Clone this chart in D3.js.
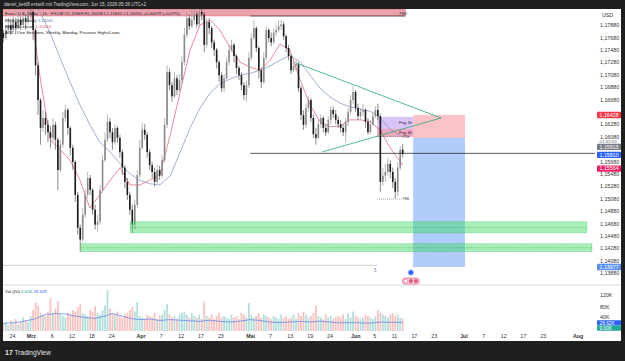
<!DOCTYPE html>
<html>
<head>
<meta charset="utf-8">
<script src="https://cdn.jsdelivr.net/npm/d3@7"></script>
<style>
  body { margin: 0; background: #1f1f1f; }
  svg { display: block; font-family: "Liberation Sans", Arial, sans-serif; }
</style>
</head>
<body>
<div id="chart"></div>
<script>
// ---- data (trading-day index: Feb 24 = 0, one bar = half a day) ----
const firstBarDay = -2;
const firstOpen = 1.1775;

const closes = [
  1.1767,1.1780,1.1788,1.1780,1.1793,1.1783,1.1796,1.1788,1.1799,1.1793,
  1.1804,1.1809,1.1780,1.1723,1.1667,1.1622,1.1638,1.1627,1.1615,1.1606,
  1.1627,1.1603,1.1554,1.1595,1.1638,1.1651,1.1622,1.1590,1.1567,1.1514,
  1.1461,1.1442,1.1482,1.1514,1.1541,1.1522,1.1490,1.1466,1.1471,1.1522,
  1.1570,1.1603,1.1632,1.1615,1.1599,1.1622,1.1606,1.1583,1.1558,1.1535,
  1.1514,1.1490,1.1466,1.1498,1.1546,1.1590,1.1619,1.1611,1.1583,1.1562,
  1.1551,1.1535,1.1554,1.1545,1.1570,1.1627,1.1712,1.1691,1.1673,1.1702,
  1.1683,1.1699,1.1728,1.1772,1.1799,1.1786,1.1796,1.1805,1.1789,1.1809,
  1.1805,1.1756,1.1793,1.1783,1.1760,1.1748,1.1728,1.1707,1.1686,1.1702,
  1.1728,1.1748,1.1756,1.1738,1.1719,1.1707,1.1691,1.1675,1.1691,1.1735,
  1.1767,1.1783,1.1751,1.1715,1.1696,1.1735,1.1780,1.1767,1.1760,1.1776,
  1.1780,1.1786,1.1789,1.1770,1.1751,1.1738,1.1715,1.1722,1.1725,1.1686,
  1.1643,1.1627,1.1654,1.1667,1.1638,1.1612,1.1606,1.1628,1.1638,1.1622,
  1.1615,1.1635,1.1651,1.1644,1.1635,1.1628,1.1622,1.1615,1.1632,1.1648,
  1.1667,1.1680,1.1654,1.1641,1.1648,1.1651,1.1632,1.1615,1.1628,1.1641,
  1.1651,1.1641,1.1535,1.1545,1.1551,1.1564,1.1551,1.1535,1.1519,1.1558,
  1.1587,1.1580
];
const highs = [
  1.1780,1.1788,1.1799,1.1793,1.1802,1.1799,1.1805,1.1802,1.1809,1.1805,
  1.1812,1.1815,1.1812,1.1783,1.1728,1.1670,1.1651,1.1648,1.1635,1.1625,
  1.1638,1.1632,1.1606,1.1603,1.1648,1.1659,1.1654,1.1625,1.1595,1.1570,
  1.1519,1.1466,1.1493,1.1522,1.1551,1.1546,1.1525,1.1498,1.1482,1.1530,
  1.1578,1.1615,1.1643,1.1638,1.1622,1.1628,1.1625,1.1611,1.1587,1.1562,
  1.1541,1.1519,1.1498,1.1506,1.1554,1.1603,1.1630,1.1628,1.1615,1.1587,
  1.1567,1.1558,1.1562,1.1561,1.1578,1.1638,1.1723,1.1718,1.1696,1.1712,
  1.1707,1.1709,1.1738,1.1783,1.1809,1.1805,1.1812,1.1814,1.1810,1.1814,
  1.1814,1.1809,1.1799,1.1799,1.1786,1.1764,1.1751,1.1731,1.1712,1.1709,
  1.1735,1.1756,1.1764,1.1759,1.1741,1.1722,1.1712,1.1696,1.1699,1.1744,
  1.1775,1.1796,1.1786,1.1754,1.1719,1.1744,1.1786,1.1783,1.1776,1.1783,
  1.1789,1.1796,1.1796,1.1793,1.1773,1.1756,1.1741,1.1731,1.1731,1.1728,
  1.1690,1.1651,1.1661,1.1673,1.1670,1.1643,1.1622,1.1635,1.1644,1.1641,
  1.1628,1.1641,1.1657,1.1657,1.1651,1.1641,1.1635,1.1628,1.1638,1.1654,
  1.1675,1.1690,1.1683,1.1661,1.1654,1.1661,1.1654,1.1638,1.1635,1.1648,
  1.1657,1.1661,1.1645,1.1558,1.1564,1.1574,1.1570,1.1558,1.1541,1.1567,
  1.1593,1.1596
];
const lows = [
  1.1760,1.1764,1.1775,1.1772,1.1776,1.1773,1.1780,1.1780,1.1783,1.1780,
  1.1788,1.1796,1.1764,1.1707,1.1643,1.1595,1.1615,1.1611,1.1599,1.1590,
  1.1599,1.1587,1.1522,1.1551,1.1590,1.1632,1.1611,1.1578,1.1554,1.1503,
  1.1450,1.1422,1.1438,1.1477,1.1509,1.1514,1.1482,1.1458,1.1455,1.1466,
  1.1519,1.1567,1.1599,1.1606,1.1587,1.1595,1.1598,1.1574,1.1546,1.1525,
  1.1506,1.1482,1.1453,1.1458,1.1493,1.1541,1.1587,1.1603,1.1574,1.1554,
  1.1541,1.1527,1.1532,1.1538,1.1541,1.1567,1.1622,1.1683,1.1664,1.1670,
  1.1675,1.1680,1.1693,1.1723,1.1767,1.1780,1.1783,1.1789,1.1783,1.1786,
  1.1796,1.1744,1.1751,1.1773,1.1751,1.1738,1.1718,1.1696,1.1680,1.1680,
  1.1699,1.1723,1.1744,1.1728,1.1709,1.1699,1.1683,1.1667,1.1664,1.1686,
  1.1731,1.1764,1.1744,1.1702,1.1686,1.1693,1.1731,1.1760,1.1754,1.1757,
  1.1770,1.1776,1.1780,1.1764,1.1744,1.1731,1.1709,1.1712,1.1715,1.1680,
  1.1635,1.1619,1.1622,1.1648,1.1632,1.1606,1.1595,1.1603,1.1622,1.1615,
  1.1609,1.1612,1.1628,1.1638,1.1628,1.1622,1.1615,1.1609,1.1599,1.1625,
  1.1643,1.1661,1.1648,1.1635,1.1635,1.1641,1.1622,1.1611,1.1612,1.1625,
  1.1638,1.1635,1.1519,1.1529,1.1535,1.1545,1.1541,1.1525,1.1508,1.1512,
  1.1554,1.1574
];
// volume per bar, in K
const volumes = [
  25,30,20,35,28,40,22,30,45,35,30,50,
  70,95,85,60,55,50,65,110,60,75,100,55,
  50,45,60,55,70,65,80,90,
  60,55,50,70,65,83,60,55,
  70,85,137,75,60,55,65,50,
  45,55,60,70,80,65,97,50,
  45,40,55,50,45,60,40,50,55,
  70,90,55,45,50,40,55,60,
  65,55,45,60,50,45,55,40,
  97,50,45,55,40,50,60,45,
  50,45,40,55,45,50,40,60,55,45,
  93,55,45,50,60,45,55,50,
  45,40,50,45,40,55,45,50,40,
  45,55,40,60,50,65,55,45,50,
  60,85,50,45,40,55,45,50,40,45,
  50,45,55,40,60,45,65,50,45,
  40,45,55,50,45,40,50,70,
  60,55,50,45,55,60,50,55,45,40
];

const emaDays = [3.6,5.6,7.7,9.7,11.7,13.7,15.7,17.7,19.8,21.8,23.8,25.8,27.8,29.8,31.9,33.9,35.9,37.9,39.9,41.9,
  44.0,46.0,48.0,50.0,52.0,54.0,56.0,58.1,60.1,62.1,64.1,66.1,68.1,70.2,72.2,74.2,76.2,78.8];
const ema200 = [1.1847,1.1809,1.1775,1.1735,1.1696,1.1659,1.1627,1.1599,1.1583,1.1564,1.1548,1.1537,1.1532,1.1530,
  1.1545,1.1583,1.1622,1.1654,1.1678,1.1693,1.1701,1.1707,1.1710,1.1715,1.1722,1.1731,1.1739,1.1728,1.1707,
  1.1686,1.1672,1.1662,1.1656,1.1652,1.1649,1.1638,1.1620,1.1607];
const ema50 = [1.1825,1.1707,1.1603,1.1587,1.1570,1.1538,1.1493,1.1514,1.1538,1.1558,1.1530,1.1530,1.1538,1.1546,
  1.1611,1.1680,1.1748,1.1788,1.1796,1.1780,1.1751,1.1728,1.1720,1.1715,1.1731,1.1757,1.1748,1.1699,1.1659,
  1.1632,1.1624,1.1625,1.1635,1.1635,1.1632,1.1619,1.1590,1.1562];

const volMaDays = [-1.8,1.6,4.6,6.7,8.7,10.7,12.7,14.7,16.7,18.8,20.2,21.8,23.8,25.8,27.8,29.8,31.9,33.9,35.9,37.9,
  39.9,41.9,44.0,46.0,48.0,50.0,52.0,54.0,56.0,58.1,60.1,62.1,64.1,66.1,68.1,70.2,72.2,74.2,76.2,78.8];
const volMa = [25,30,40,55,58,57,50,45,42,50,58,52,42,38,40,35,38,36,34,32,
  36,32,30,33,38,35,30,28,30,32,30,33,30,27,28,27,26,30,29,28.6];

const priceTicks = [1.1788,1.1768,1.1748,1.1728,1.1708,1.1688,1.1668,1.1628,1.1608,1.1568,1.1548,
  1.1528,1.1508,1.1488,1.1468,1.1448,1.1428,1.1408,1.1388];
const volTicks = [40, 80, 120];
const timeTickDays = [0,3.8,8,12,16,20,25.9,30,34,38,42,48,52,56,60,64,69.2,73,77,81,85,91,95,99,103,107,114];
const timeTickLabels = ['24','Mrz','6','12','18','24','Apr','7','12','17','23','Mai','7','13','19','24',
  'Jun','5','11','17','23','Jul','7','12','17','23','Aug'];
const monthLabels = ['Mrz','Apr','Mai','Jun','Jul','Aug'];

// drawings, in day index / price
const supplyZone = { from: -2, to: 79.3, top: 1.18138, bottom: 1.18025 };
const demandZones = [
  { from: 23.8, to: 115.9, top: 1.14706, bottom: 1.14527, mid: 1.14612 },
  { from: 13.9, to: 116.9, top: 1.14352, bottom: 1.14223, mid: 1.14287 }
];
const fvgZones = [
  { from: 73.6, to: 80.85, top: 1.16399, bottom: 1.16206, label: 'Fvg 1h', fill: 'rgba(170,125,235,0.45)' },
  { from: 73.6, to: 80.85, top: 1.16206, bottom: 1.16077, label: 'Fvg 4h', fill: 'rgba(225,60,115,0.45)' }
];
const position = { from: 80.85, to: 91.3, stop: 1.16428, entry: 1.16058, target: 1.13977 };
const triangle = { upper: [57.3, 1.17267], lower: [62.5, 1.15832], apex: [86.5, 1.16380] };
const hLine = { from: 48, price: 1.15810 };
const weekHigh = { from: 48, to: 79.3, price: 1.18025 };
const monthLow = { from: -2, to: 73.6, price: 1.14005 };
const dayLevels = [
  { from: 73.6, to: 78.6, price: 1.16080, label: 'PDH' },
  { from: 73.6, to: 78.6, price: 1.15073, label: 'PWL' }
];
const lastPrice = 1.15915;

// ---- layout ----
const W = 625, H = 361;
const plot = { left: 3, right: 595, top: 9, bottom: 285 };
const volPane = { top: 285, bottom: 331 };

const svg = d3.select('#chart').append('svg').attr('width', W).attr('height', H);
svg.append('rect').attr('width', W).attr('height', H).attr('fill', '#1f1f1f');
svg.append('rect').attr('x', 3).attr('y', 9).attr('width', 618).attr('height', 332).attr('fill', '#ffffff');

const x = d3.scaleLinear().domain([0, 77]).range([12, 394]);
const y = d3.scaleLinear().domain([1.13687, 1.18138]).range([plot.bottom, plot.top]);
const yVol = d3.scaleLinear().domain([0, 120]).range([volPane.bottom, 295]);

const defs = svg.append('defs');
defs.append('clipPath').attr('id', 'clipMain').append('rect')
  .attr('x', plot.left).attr('y', plot.top)
  .attr('width', plot.right - plot.left).attr('height', plot.bottom - plot.top);
defs.append('clipPath').attr('id', 'clipVol').append('rect')
  .attr('x', plot.left).attr('y', volPane.top)
  .attr('width', plot.right - plot.left).attr('height', volPane.bottom - volPane.top);

const main = svg.append('g').attr('clip-path', 'url(#clipMain)');
const volG = svg.append('g').attr('clip-path', 'url(#clipVol)');

const bars = closes.map((c, i) => ({
  day: firstBarDay + i * 0.5,
  o: i ? closes[i - 1] : firstOpen,
  h: highs[i], l: lows[i], c, v: volumes[i]
}));
const barW = (x(0.5) - x(0)) * 0.65;
const cx = d => x(d.day + 0.25);

// zones
function zone(g, z, fill, stroke) {
  return g.append('rect')
    .attr('x', x(z.from)).attr('width', x(z.to) - x(z.from))
    .attr('y', y(z.top)).attr('height', y(z.bottom) - y(z.top))
    .attr('fill', fill).attr('stroke', stroke || 'none').attr('stroke-width', 0.5);
}
zone(main, supplyZone, 'rgba(214,70,92,0.5)', 'rgba(200,40,60,0.6)');
demandZones.forEach(z => {
  zone(svg, z, 'rgba(60,220,100,0.45)', 'rgba(40,190,80,0.5)');
  svg.append('line')
    .attr('x1', x(z.from)).attr('x2', x(z.to))
    .attr('y1', y(z.mid)).attr('y2', y(z.mid))
    .attr('stroke', '#2e7d32').attr('stroke-width', 0.5).attr('stroke-dasharray', '1,1.5');
});

// short position tool
zone(main, { from: position.from, to: position.to, top: position.stop, bottom: position.entry }, 'rgba(242,54,69,0.3)');
zone(main, { from: position.from, to: position.to, top: position.entry, bottom: position.target }, 'rgba(66,133,244,0.42)');

fvgZones.forEach(z => {
  zone(main, z, z.fill);
  main.append('text').attr('x', x(z.to) - 14).attr('y', (y(z.top) + y(z.bottom)) / 2 + 1.6)
    .attr('font-size', 4.3).attr('fill', '#222').text(z.label);
});

// moving averages
const emaLine = vals => d3.line().x((d, i) => x(emaDays[i])).y(d => y(d))(vals);
main.append('path').attr('d', emaLine(ema200)).attr('fill', 'none')
  .attr('stroke', '#7d8fbf').attr('stroke-width', 0.7);
main.append('path').attr('d', emaLine(ema50)).attr('fill', 'none')
  .attr('stroke', '#e05a6e').attr('stroke-width', 0.7);

// candles
const candle = main.append('g').selectAll('g').data(bars).enter().append('g');
candle.append('line')
  .attr('x1', cx).attr('x2', cx)
  .attr('y1', d => y(d.h)).attr('y2', d => y(d.l))
  .attr('stroke', d => d.c >= d.o ? '#8c8c8c' : '#3a3a3a').attr('stroke-width', 0.6);
candle.append('rect')
  .attr('x', d => cx(d) - barW / 2).attr('width', barW)
  .attr('y', d => y(Math.max(d.o, d.c)))
  .attr('height', d => Math.max(0.6, Math.abs(y(d.o) - y(d.c))))
  .attr('fill', d => d.c >= d.o ? '#8a8a8a' : '#1c1c1c');

// drawn lines
const seg = (g, x1, p1, x2, p2, col, w, dash) => g.append('line')
  .attr('x1', x(x1)).attr('y1', y(p1)).attr('x2', x(x2)).attr('y2', y(p2))
  .attr('stroke', col).attr('stroke-width', w).attr('stroke-dasharray', dash || null);
seg(main, triangle.upper[0], triangle.upper[1], triangle.apex[0], triangle.apex[1], '#2aa876', 0.8);
seg(main, triangle.lower[0], triangle.lower[1], triangle.apex[0], triangle.apex[1], '#2aa876', 0.8);
seg(main, hLine.from, hLine.price, 120, hLine.price, '#111', 0.7);
seg(main, weekHigh.from, weekHigh.price, weekHigh.to, weekHigh.price, '#222', 0.6);
seg(main, monthLow.from, monthLow.price, monthLow.to, monthLow.price, '#9a9a9a', 0.5);
main.append('text').attr('x', x(weekHigh.to) - 6).attr('y', y(weekHigh.price) - 0.8)
  .attr('font-size', 3.2).attr('fill', '#333').text('PWH');
dayLevels.forEach(l => {
  seg(main, l.from, l.price, l.to, l.price, '#444', 0.5, '1,1');
  main.append('text').attr('x', x(l.to) + 1).attr('y', y(l.price) + 1)
    .attr('font-size', 3.2).attr('fill', '#333').text(l.label);
});

// event markers
svg.append('text').attr('x', x(73.2)).attr('y', 271.5).attr('font-size', 4.5)
  .attr('fill', '#6a7bb0').attr('text-anchor', 'middle').text('5');
svg.append('circle').attr('cx', x(80.4)).attr('cy', 272.5).attr('r', 2.7)
  .attr('fill', '#2962ff').attr('stroke', '#b5c6f5').attr('stroke-width', 0.8);
svg.append('rect').attr('x', x(80.4) - 8.5).attr('y', 278).attr('width', 17).attr('height', 6.2).attr('rx', 3)
  .attr('fill', '#fbd3db').attr('stroke', '#e2557a').attr('stroke-width', 0.7);
[-5, 0, 5].forEach((dx, i) => svg.append('circle').attr('cx', x(80.4) + dx).attr('cy', 281.1).attr('r', 1.8)
  .attr('fill', i ? '#e2557a' : '#fff').attr('stroke', '#e2557a').attr('stroke-width', 0.5));

// pane separator
svg.append('line').attr('x1', 3).attr('x2', 621).attr('y1', volPane.top).attr('y2', volPane.top)
  .attr('stroke', '#cfcfcf').attr('stroke-width', 0.8);

// volume
volG.selectAll('rect').data(bars).enter().append('rect')
  .attr('x', d => cx(d) - 0.9).attr('width', 1.8)
  .attr('y', d => yVol(d.v)).attr('height', d => yVol(0) - yVol(d.v))
  .attr('fill', d => d.c >= d.o ? 'rgba(38,166,154,0.35)' : 'rgba(239,83,80,0.35)');
volG.append('path')
  .attr('d', d3.line().x((d, i) => x(volMaDays[i])).y(d => yVol(d))(volMa))
  .attr('fill', 'none').attr('stroke', '#3f6fe0').attr('stroke-width', 0.6);

// price axis
const fmtPrice = p => d3.format('.5f')(p).replace('.', ',');
svg.append('g').attr('transform', 'translate(598,0)')
  .call(d3.axisRight(y).tickValues(priceTicks).tickFormat(fmtPrice).tickSize(0).tickPadding(2))
  .call(g => g.select('.domain').remove())
  .selectAll('text').attr('font-size', 5.3).attr('fill', '#333').attr('font-family', 'Liberation Sans, Arial');
svg.append('text').attr('x', 602).attr('y', 16.5).attr('font-size', 5.3).attr('fill', '#333').text('USD');

svg.append('g').attr('transform', 'translate(598,0)')
  .call(d3.axisRight(yVol).tickValues(volTicks).tickFormat(v => v + 'K').tickSize(0).tickPadding(2))
  .call(g => g.select('.domain').remove())
  .selectAll('text').attr('font-size', 5.3).attr('fill', '#333').attr('font-family', 'Liberation Sans, Arial')
  .attr('dy', d => d === 40 ? '-0.1em' : '0.32em');

function tag(yc, text, fill, color, h) {
  h = h || 6.4;
  svg.append('rect').attr('x', 597).attr('y', yc - h / 2).attr('width', 24).attr('height', h).attr('rx', 0.8)
    .attr('fill', fill);
  svg.append('text').attr('x', 599.5).attr('y', yc + 1.8).attr('font-size', h < 6 ? 4.8 : 5.3)
    .attr('fill', color).text(text);
}
tag(y(position.stop), fmtPrice(position.stop), '#f23645', '#fff');
svg.append('text').attr('x', 599.5).attr('y', y(lastPrice) - 4.2).attr('font-size', 4.4)
  .attr('fill', '#666').text('01:33:53');
tag(y(lastPrice), fmtPrice(lastPrice), '#787b86', '#fff');
tag(y(hLine.price) + 1.5, fmtPrice(hLine.price), '#2962ff', '#fff');
tag(y(1.15564), '1,15564', '#e91e63', '#fff');
tag(y(position.target), fmtPrice(position.target), '#5b8ff0', '#fff');
tag(yVol(27), '28.62K', '#2962ff', '#fff', 5.4);
tag(yVol(9.5), '9.60K', '#22a897', '#fff', 5.4);

// time axis
svg.append('g').attr('transform', `translate(0,${volPane.bottom})`)
  .call(d3.axisBottom(x).tickValues(timeTickDays).tickFormat((d, i) => timeTickLabels[i]).tickSize(0).tickPadding(3))
  .call(g => g.select('.domain').remove())
  .selectAll('text').attr('font-size', 5.3).attr('fill', '#333').attr('font-family', 'Liberation Sans, Arial')
  .attr('font-weight', function () { return monthLabels.includes(this.textContent) ? 'bold' : 'normal'; });

// legends
svg.append('text').attr('x', 4).attr('y', 6.3).attr('font-size', 4.6).attr('fill', '#d6d6d6')
  .text('daniel_kettl8 erstellt mit TradingView.com, Jun 15, 2026 05:36 UTC+2');

const legend = svg.append('g').attr('font-size', 4.3).attr('fill', '#131722');
legend.append('text').attr('x', 5).attr('y', 15.3)
  .text('Euro / U.S. Dollar · 1h · FXCM  O1,15969 H1,16059 L1,15945 C1,16050 +0,00078 (+0,07%)');
const l2 = legend.append('text').attr('x', 5).attr('y', 21.5);
l2.append('tspan').text('EMA (200 close) ');
l2.append('tspan').attr('fill', '#5b7cc4').text('1,16065');
const l3 = legend.append('text').attr('x', 5).attr('y', 27.5);
l3.append('tspan').text('EMA (50 close) ');
l3.append('tspan').attr('fill', '#e0506a').text('1,15624');
legend.append('text').attr('x', 5).attr('y', 33.8).text('AJR - One Sessions, Weekly, Monday, Previous Highs/Lows');

const vl = svg.append('text').attr('x', 5).attr('y', 292.8).attr('font-size', 4.3).attr('fill', '#131722');
vl.append('tspan').text('Vol (20) ');
vl.append('tspan').attr('fill', '#22a897').text('6.60K ');
vl.append('tspan').attr('fill', '#2962ff').text('28.62K');

// footer logo
const logo = svg.append('g').attr('fill', '#e6e6e6');
logo.append('text').attr('x', 5).attr('y', 354.5).attr('font-size', 7).attr('font-weight', 'bold').text('17');
logo.append('text').attr('x', 14.5).attr('y', 354.5).attr('font-size', 6.6).text('TradingView');
</script>
</body>
</html>
